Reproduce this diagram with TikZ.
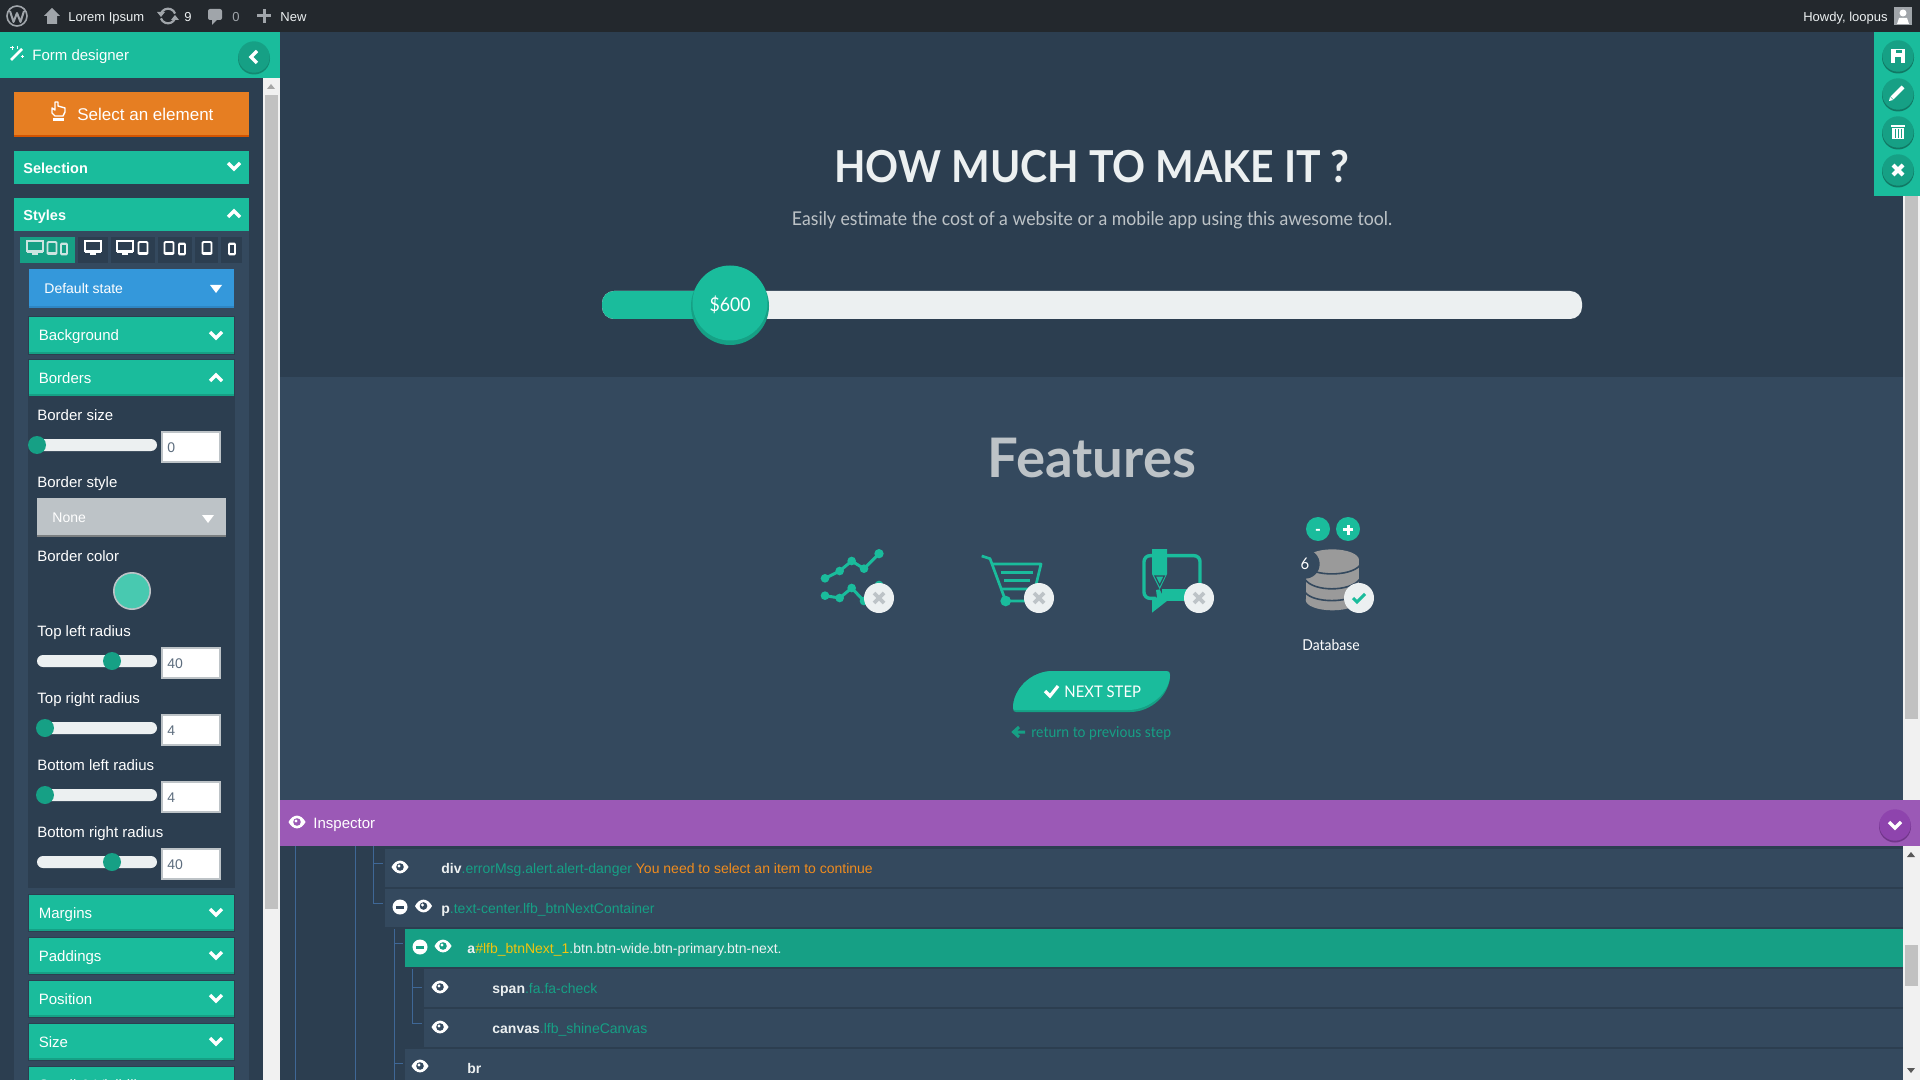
\documentclass[tikz,border=0pt]{standalone}
\usepackage{fontspec}
\setmainfont{Liberation Sans}
\newfontfamily\latofont[FakeStretch=0.93]{Lato}
\newfontfamily\latowide{Lato}
\definecolor{bar}{HTML}{23282D}
\definecolor{teal}{HTML}{1ABC9C}
\definecolor{dteal}{HTML}{16A085}
\definecolor{navy}{HTML}{2C3E50}
\definecolor{slate}{HTML}{34495E}
\definecolor{cloud}{HTML}{ECF0F1}
\definecolor{silver}{HTML}{BDC3C7}
\definecolor{orangeb}{HTML}{E67E22}
\definecolor{warntxt}{HTML}{F08C1E}
\definecolor{idyellow}{HTML}{F1C40F}
\definecolor{dorange}{HTML}{D35400}
\definecolor{blueb}{HTML}{3498DB}
\definecolor{dblue}{HTML}{2E86C4}
\definecolor{purp}{HTML}{9B59B6}
\definecolor{dpurp}{HTML}{8E44AD}
\definecolor{sbbg}{HTML}{F1F1F1}
\definecolor{sbth}{HTML}{C1C1C1}
\definecolor{tree}{HTML}{3F6796}
\definecolor{wpgray}{HTML}{A0A5AA}
\definecolor{dbgray}{HTML}{9A9A9A}
\definecolor{inputtxt}{HTML}{5D6D7E}
\newcommand{\fpx}[1]{\fontsize{\the\dimexpr#1pt/2\relax}{\the\dimexpr#1pt/2+1pt\relax}\selectfont}
\tikzset{
  lbl/.style={anchor=base west,inner sep=0pt,text=white},
  ctr/.style={anchor=base,inner sep=0pt},
  chevline/.style={draw=white,line width=1.7pt,line cap=butt,line join=miter},
}
% accordion header
\newcommand{\acc}[4]{%
  \fill[navy] (28,#1-1) rectangle (235,#2+1);
  \fill[dteal] (29,#1) rectangle (234,#2);
  \fill[teal] (29,#1) rectangle (234,#2-2);
  \node[lbl] at (38.5,#2-13) {\fpx{15}#3};
  #4
}
\newcommand{\chevD}[2]{\draw[chevline] (#1-6,#2-3) -- (#1,#2+3) -- (#1+6,#2-3);}
\newcommand{\chevU}[2]{\draw[chevline] (#1-6,#2+3) -- (#1,#2-3) -- (#1+6,#2+3);}
\newcommand{\tri}[3]{\fill[#3] (#1-6,#2-4) -- (#1+6,#2-4) -- (#1,#2+4) -- cycle;}
\newcommand{\eyeI}[3]{%
  \fill[white] (#1-8.5,#2) .. controls (#1-4,#2-8.5) and (#1+4,#2-8.5) .. (#1+8.5,#2) .. controls (#1+4,#2+8.5) and (#1-4,#2+8.5) .. (#1-8.5,#2) -- cycle;
  \fill[#3] (#1,#2) circle (3.8);
  \fill[white] (#1-1,#2-1) circle (1.6);
}
\newcommand{\minusI}[3]{%
  \fill[white] (#1,#2) circle (7.5);
  \fill[#3] (#1-4,#2-1.5) rectangle (#1+4,#2+1.5);
}
\newcommand{\slid}[2]{%
  \fill[cloud,rounded corners=3pt] (37,#1-6) rectangle (157,#1+6);
  \fill[dteal] (#2,#1) circle (9);
}
\newcommand{\inp}[2]{%
  \fill[silver] (161,#1) rectangle (221,#1+32);
  \fill[white] (163,#1+2) rectangle (219,#1+30);
  \node[lbl,text=inputtxt] at (167,#1+21) {\fpx{14}#2};
}
\newcommand{\monit}[3]{%
  \draw[#3,line width=0.9pt] (#1-8,#2-6) rectangle (#1+8,#2+4);
  \fill[#3] (#1-8,#2+4) rectangle (#1+8,#2+6);
  \fill[#3] (#1-3,#2+6) rectangle (#1+3,#2+8);
}
\newcommand{\tabl}[3]{\draw[#3,line width=0.9pt,rounded corners=0.5pt] (#1-4.5,#2-6) rectangle (#1+4.5,#2+6);\fill[#3] (#1-4.5,#2+4.5) rectangle (#1+4.5,#2+6.5);}
\newcommand{\phon}[3]{\draw[#3,line width=0.9pt,rounded corners=0.5pt] (#1-3,#2-5.5) rectangle (#1+3,#2+5.5);\fill[#3] (#1-3,#2-6) rectangle (#1+3,#2-4);\fill[#3] (#1-3,#2+4) rectangle (#1+3,#2+6);}
\newcommand{\roundb}[2]{\fill[#2!75!black] (1898,#1+1.5) circle (16);\fill[#2] (1898,#1) circle (15.7);}
\newcommand{\xmark}[4]{\draw[#4,line width=#3] (#1-5,#2-5) -- (#1+5,#2+5) (#1-5,#2+5) -- (#1+5,#2-5);}
\begin{document}
\begin{tikzpicture}[x=0.5pt,y=-0.5pt]
\useasboundingbox (0,0) rectangle (1920,1080);
\clip (0,0) rectangle (1920,1080);
% base
\fill[slate] (0,0) rectangle (1920,1080);
% main
\fill[navy] (280,32) rectangle (1903,377);
\fill[slate] (280,377) rectangle (1903,800);
% right scrollbar
\fill[sbbg] (1903,32) rectangle (1920,846);
\fill[sbth] (1905,180) rectangle (1918,719);
% slider
\fill[cloud,rounded corners=6pt] (602,291) rectangle (1582,319);
\fill[teal,rounded corners=6pt] (602,291) rectangle (730,319);
\fill[dteal] (730,306) circle (39);
\fill[teal] (730,303) circle (37.5);
\node[ctr,text=white] at (730,312) {\latofont\fpx{19}\$600};
% headings
\node[ctr,text=cloud] at (1092,183) {\latofont\bfseries\fpx{44}HOW MUCH TO MAKE IT ?};
\node[ctr,text=silver] at (1092,226) {\latofont\fpx{19}Easily estimate the cost of a website or a mobile app using this awesome tool.};
\node[ctr,text=silver] at (1092,477) {\latowide\bfseries\fpx{54.5}Features};
% chart icon
\begin{scope}[shift={(800,530)},x=0.16667pt,y=-0.16667pt]
 \draw[teal,line width=1.5pt,line join=round] (75,145)--(119,123)--(155,93)--(192,116)--(237,71);
 \draw[teal,line width=1.5pt,line join=round] (75,197)--(119,204)--(155,174)--(192,213)--(237,165);
 \foreach \p in {(75,145),(119,123),(155,93),(192,116),(75,197),(119,204),(155,174),(192,213),(237,165)} \fill[teal] \p circle (13);
 \fill[teal] (237,71) circle (14);
 % cart
 \draw[teal,line width=1.35pt,line join=round] (545,78)--(570,86)--(617,213)--(720,213);
 \draw[teal,line width=1.35pt,line join=round] (577,102)--(723,102)--(705,177)--(600,177);
 \draw[teal,line width=1.7pt] (602,127)--(700,127) (612,151)--(690,151);
 \fill[teal] (617,213) circle (16);
\end{scope}
% bubble & database
\begin{scope}[shift={(1120,510)},x=0.16667pt,y=-0.16667pt]
 \draw[teal,line width=1.7pt,rounded corners=3pt] (96,137)--(72,137)--(72,265)--(110,265);
 \draw[teal,line width=1.7pt,rounded corners=3pt] (140,137)--(240,137)--(240,250);
 \fill[teal] (125,238) rectangle (240,272);
 \fill[teal] (96,262)--(96,308)--(142,272)--(142,262)--cycle;
 \fill[slate] (88,190)--(108,262)--(124,262)--(106,190)--cycle;
 \fill[teal] (96,117)--(141,117)--(141,192)--(119,238)--(96,192)--cycle;
 \fill[teal] (119,238)--(134,270)--(112,270)--(108,240)--cycle;
 \draw[slate,line width=0.6pt] (105,198)--(133,198)--(119,226)--cycle;
 % database
 \fill[dbgray] (557,150) rectangle (717,270);
 \fill[dbgray] (637,150) ellipse (80 and 32);
 \fill[dbgray] (637,270) ellipse (80 and 31);
 \draw[slate,line width=0.8pt] (555,167) .. controls (580,200) and (690,200) .. (719,167);
 \draw[slate,line width=0.8pt] (555,208) .. controls (580,246) and (690,246) .. (719,208);
 \draw[slate,line width=0.8pt] (555,247) .. controls (580,280) and (690,280) .. (719,247);
 \fill[slate] (555,162) circle (44);
 \fill[teal] (594,57) circle (36);
 \fill[teal] (684,57) circle (36);
\end{scope}
\node[ctr,text=white] at (1318,534) {\bfseries\fpx{16}-};
\fill[white] (1343,528) rectangle (1353,531);
\fill[white] (1346.5,524.5) rectangle (1349.5,534.5);
\node[ctr,text=white] at (1305,569) {\latofont\fpx{16}6};
% badges
\foreach \bx in {879,1039,1199,1359} \fill[cloud] (\bx,598) circle (15);
\xmark{879}{598}{1.9pt}{silver}
\xmark{1039}{598}{1.9pt}{silver}
\xmark{1199}{598}{1.9pt}{silver}
\draw[teal,line width=1.5pt] (1353,598)--(1357,602)--(1365,594);
\node[ctr,text=white] at (1331,650) {\latofont\fpx{15}Database};
% next step
\fill[dteal] (1013,708) .. controls (1013,690) and (1030,671) .. (1053,671) -- (1166,671) .. controls (1169,671) and (1170,672) .. (1170,675) .. controls (1170,694) and (1152,712) .. (1130,712) -- (1016,712) .. controls (1014,712) and (1013,711) .. (1013,708) -- cycle;
\fill[teal] (1013,708) .. controls (1013,690) and (1030,671) .. (1053,671) -- (1166,671) .. controls (1169,671) and (1170,672) .. (1170,675) .. controls (1170,692) and (1150,710) .. (1128,710) -- (1016,710) .. controls (1014,710) and (1013,710) .. (1013,708) -- cycle;
\draw[white,line width=1.6pt] (1045,691)--(1050,696)--(1058,686);
\node[lbl] at (1064,697) {\latofont\fpx{16}NEXT STEP};
\draw[dteal,line width=1.5pt,line join=miter] (1019,727)--(1013.5,732)--(1019,737) (1013.5,732)--(1025,732);
\node[lbl,text=dteal] at (1031,737) {\latofont\fpx{15}return to previous step};
% right tool panel
\fill[teal] (1874,32) rectangle (1920,196);
\foreach \cy in {56,94,132,170} {\roundb{\cy}{dteal}}
\fill[white] (1891,49) rectangle (1905,63);
\fill[dteal] (1896,50) rectangle (1902,53);
\fill[dteal] (1895,57) rectangle (1901,63);
\draw[white,line width=2pt] (1892,98)--(1903,87);
\fill[white] (1889,101) -- (1890,97) -- (1893,100) -- cycle;
\fill[white] (1891,125) rectangle (1905,127);
\fill[white] (1892,128) rectangle (1904,139);
\draw[dteal,line width=0.4pt] (1895,129)--(1895,138) (1898,129)--(1898,138) (1901,129)--(1901,138);
\draw[white,line width=2pt] (1893,165)--(1903,175) (1893,175)--(1903,165);
% inspector
\fill[navy] (280,846) rectangle (1903,1080);
\fill[sbbg] (1903,846) rectangle (1920,1080);
\fill[purp] (280,800) rectangle (1920,846);
\fill[black!20!dpurp] (1895,826.5) circle (16);
\fill[dpurp] (1895,825) circle (15.7);
\chevD{1895}{825}
\eyeI{297}{822}{purp}
\node[lbl] at (313,828) {\fpx{15}Inspector};
\fill[sbth] (1905,945) rectangle (1918,986);
\fill[black!65] (1911,852)--(1915,857)--(1907,857)--cycle;
\fill[black!65] (1907,1068)--(1915,1068)--(1911,1073)--cycle;
% rows
\fill[slate] (385,849) rectangle (1903,887);
\fill[slate] (385,889) rectangle (1903,927);
\fill[dteal] (405,929) rectangle (1903,967);
\fill[slate] (424,969) rectangle (1903,1007);
\fill[slate] (424,1009) rectangle (1903,1047);
\fill[slate] (405,1049) rectangle (1903,1080);
% tree lines
\draw[tree,line width=0.5pt] (295,846)--(295,1080) (355,846)--(355,1080);
\draw[tree,line width=0.5pt] (373,846)--(373,903)--(383,903) (373,863)--(383,863);
\draw[tree,line width=0.5pt] (394,929)--(394,1080) (394,943)--(403,943) (394,1063)--(403,1063);
\draw[tree,line width=0.5pt] (412,969)--(412,1023)--(422,1023) (412,987)--(422,987);
% row text
\eyeI{400}{867}{slate}
\node[lbl] at (441,873) {\fpx{14}\textcolor{cloud}{\textbf{div}}\textcolor{dteal}{.errorMsg.alert.alert-danger} \textcolor{warntxt}{You need to select an item to continue}};
\minusI{400}{907}{slate}
\eyeI{423.5}{906}{slate}
\node[lbl] at (441,913) {\fpx{14}\textcolor{cloud}{\textbf{p}}\textcolor{dteal}{.text-center.lfb\_btnNextContainer}};
\minusI{420}{947}{dteal}
\eyeI{443}{946}{dteal}
\node[lbl] at (467,953) {\fpx{14}\textcolor{cloud}{\textbf{a}}\textcolor{idyellow}{\#lfb\_btnNext\_1}\textcolor{cloud}{.btn.btn-wide.btn-primary.btn-next.}};
\eyeI{440}{987}{slate}
\node[lbl] at (492,993) {\fpx{14}\textcolor{cloud}{\textbf{span}}\textcolor{dteal}{.fa.fa-check}};
\eyeI{440}{1027}{slate}
\node[lbl] at (492,1033) {\fpx{14}\textcolor{cloud}{\textbf{canvas}}\textcolor{dteal}{.lfb\_shineCanvas}};
\eyeI{420}{1066}{slate}
\node[lbl] at (467,1073) {\fpx{14}\textcolor{cloud}{\textbf{br}}};
% sidebar
\fill[navy] (0,32) rectangle (280,1080);
\fill[slate] (14,231) rectangle (249,1080);
\fill[navy] (28,396) rectangle (235,888);
\fill[sbbg] (263,78) rectangle (280,1080);
\fill[sbth] (265,95) rectangle (278,909);
\fill[black!35] (271,84)--(275,89)--(267,89)--cycle;
% header
\fill[teal] (0,32) rectangle (280,78);
\fill[black!15!dteal] (254,58.5) circle (16);
\fill[dteal] (254,57) circle (15.7);
\draw[chevline] (257,51)--(251,57)--(257,63);
\node[lbl] at (32,61) {\fpx{15}Form designer};
\draw[white,line width=1.3pt] (11,60)--(22,49);
\draw[white,line width=0.5pt] (12,46)--(12,50) (10,48)--(14,48) (22,55)--(22,58) (20.5,56.5)--(23.5,56.5) (17,46)--(17,49);
% select
\fill[dorange] (14,92) rectangle (249,137);
\fill[orangeb] (14,92) rectangle (249,135);
\node[lbl] at (77,121) {\fpx{17}Select an element};
\draw[white,line width=0.7pt,line join=round] (55,102)--(55,110)--(52,108)--(52,113)--(55,116)--(63,116)--(65,112)--(65,108)--(58,106)--(58,102)--cycle;
\fill[white] (53,118) rectangle (64,121);
% selection / styles
\fill[teal] (14,151) rectangle (249,184);
\node[lbl] at (23,174) {\bfseries\fpx{14.5}Selection};
\chevD{234}{166}
\fill[teal] (14,198) rectangle (249,231);
\node[lbl] at (23,221) {\bfseries\fpx{14.5}Styles};
\chevU{234}{214}
% device tabs
\fill[dteal] (20,237) rectangle (75,263);
\fill[navy] (78,237) rectangle (108,263);
\fill[navy] (111,237) rectangle (155,263);
\fill[navy] (158,237) rectangle (192,263);
\fill[navy] (195,237) rectangle (218,263);
\fill[navy] (221,237) rectangle (242,263);
\monit{35}{247}{cloud!85!dteal}
\tabl{52}{248}{cloud!85!dteal}
\phon{64}{249}{cloud!85!dteal}
\monit{93}{247}{white}
\monit{125}{247}{white}
\tabl{143}{248}{white}
\tabl{169}{248}{white}
\phon{182}{249}{white}
\tabl{207}{248}{white}
\phon{232}{249}{white}
% default state
\fill[dblue] (29,269) rectangle (234,308);
\fill[blueb] (29,269) rectangle (234,306);
\node[lbl] at (44,294) {\fpx{14}Default state};
\tri{216}{289}{white}
% accordions
\acc{317}{354}{Background}{\chevD{216}{335}}
\acc{360}{396}{Borders}{\chevU{216}{378}}
\acc{895}{931}{Margins}{\chevD{216}{912}}
\acc{938}{974}{Paddings}{\chevD{216}{955}}
\acc{981}{1017}{Position}{\chevD{216}{998}}
\acc{1024}{1060}{Size}{\chevD{216}{1041}}
\acc{1067}{1103}{Scroll \& Visibility}{}
% form
\node[lbl] at (37,420) {\fpx{15}Border size};
\slid{445}{37}\inp{431}{0}
\node[lbl] at (37,487) {\fpx{15}Border style};
\fill[black!35!silver] (37,498) rectangle (226,537);
\fill[silver] (37,498) rectangle (226,535);
\node[lbl] at (52,522) {\fpx{14}None};
\tri{208}{519}{white}
\node[lbl] at (37,561) {\fpx{15}Border color};
\fill[silver] (132,591) circle (19);
\fill[teal!80!white] (132,591) circle (17.3);
\node[lbl] at (37,636) {\fpx{15}Top left radius};
\slid{661}{112}\inp{647}{40}
\node[lbl] at (37,703) {\fpx{15}Top right radius};
\slid{728}{45}\inp{714}{4}
\node[lbl] at (37,770) {\fpx{15}Bottom left radius};
\slid{795}{45}\inp{781}{4}
\node[lbl] at (37,837) {\fpx{15}Bottom right radius};
\slid{862}{112}\inp{848}{40}
% top bar
\fill[bar] (0,0) rectangle (1920,32);
\draw[wpgray,line width=0.8pt] (17,16) circle (10);
\draw[wpgray,line width=1pt,line join=round] (10,11)--(13.5,22)--(17,13)--(20.5,22)--(24,11);
\fill[wpgray] (44,16)--(52,8)--(60,16)--(57,16)--(57,24)--(47,24)--(47,16)--cycle;
\node[lbl,text=cloud] at (68,22) {\fpx{13}Lorem Ipsum};
\draw[wpgray,line width=1.1pt] (161,13.6) arc (-160:-20:7.5);
\draw[wpgray,line width=1.1pt] (175,18.4) arc (20:160:7.5);
\fill[wpgray] (157,12)--(165,12)--(161,17)--cycle;
\fill[wpgray] (171,20)--(179,20)--(175,15)--cycle;
\node[lbl,text=cloud] at (184,22) {\fpx{13}9};
\fill[wpgray,rounded corners=1pt] (208,9) rectangle (222,20);
\fill[wpgray] (212,19)--(212,25)--(218,19)--cycle;
\node[lbl,text=wpgray] at (232,22) {\fpx{13}0};
\fill[wpgray] (257,14.5) rectangle (271,17.5);
\fill[wpgray] (262.5,9) rectangle (265.5,23);
\node[lbl,text=cloud] at (280,22) {\fpx{13}New};
\node[anchor=base east,inner sep=0pt,text=cloud] at (1888,22) {\fpx{13}Howdy, loopus};
\fill[wpgray] (1894,7) rectangle (1912,25);
\fill[white] (1903,13) circle (3.5);
\fill[white] (1897,24)--(1899,18)--(1907,18)--(1909,24)--cycle;
\end{tikzpicture}
\end{document}
